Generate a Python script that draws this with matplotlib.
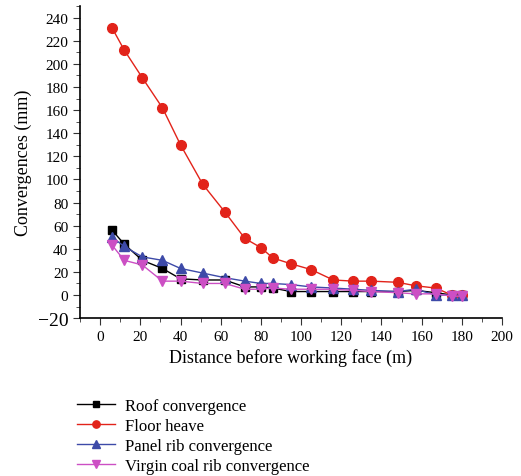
import matplotlib.pyplot as plt
from matplotlib.ticker import MultipleLocator

# distances (m) and convergences (mm)
distance = [6, 12, 21, 31, 40, 51, 62, 72, 80, 86, 95, 105, 116, 126, 135, 148, 157, 167, 175, 180]
roof = [56, 44, 30, 23, 14, 13, 13, 7, 7, 6, 3, 3, 3, 3, 3, 3, 4, 2, 0, 0]
floor = [231, 212, 188, 162, 130, 96, 72, 49, 41, 32, 27, 22, 13, 12, 12, 11, 8, 6, 0, 0]
panel_rib = [50, 42, 33, 30, 23, 19, 15, 12, 10, 10, 9, 7, 6, 5, 4, 3, 5, 0, 0, 0]
virgin_rib = [43, 30, 26, 12, 12, 10, 10, 5, 5, 6, 5, 5, 5, 4, 3, 2, 1, 1, -1, -1]

plt.rcParams['font.family'] = ['Liberation Serif', 'DejaVu Serif']

fig = plt.figure(figsize=(5.21, 4.77), dpi=100)
ax = fig.add_axes([0.1536, 0.331, 0.81, 0.654])

ax.plot(distance, roof, color="black", marker="s", ms=6, lw=1, label="Roof convergence")
ax.plot(distance, floor, color="#e2231a", marker="o", ms=7, lw=1, label="Floor heave")
ax.plot(distance, panel_rib, color="#3d4aa8", marker="^", ms=7, lw=1, label="Panel rib convergence")
ax.plot(distance, virgin_rib, color="#cc4fc4", marker="v", ms=7, lw=1, label="Virgin coal rib convergence")

ax.set_xlim(-10, 200)
ax.set_ylim(-20, 250)
ax.xaxis.set_major_locator(MultipleLocator(20))
ax.xaxis.set_minor_locator(MultipleLocator(10))
ax.yaxis.set_major_locator(MultipleLocator(20))
ax.yaxis.set_minor_locator(MultipleLocator(10))
ax.set_yticks(range(-20, 241, 20))
ax.set_yticklabels([("\u221220" if v == -20 else str(v)) for v in range(-20, 241, 20)])
ax.tick_params(which="both", direction="out", labelsize=11, color="#333333")
ax.tick_params(which="major", length=5)
ax.tick_params(which="minor", length=3)
ax.spines["top"].set_visible(False)
ax.spines["right"].set_visible(False)
ax.spines["left"].set_linewidth(1.2)
ax.spines["bottom"].set_linewidth(1.2)
for lbl in ax.get_yticklabels():
    if lbl.get_text() == "\u221220":
        lbl.set_fontsize(14)

ax.set_xlabel("Distance before working face (m)", fontsize=13)
ax.set_ylabel("Convergences (mm)", fontsize=13)

fig.legend(loc="upper left", bbox_to_anchor=(0.148, 0.164), frameon=False,
           fontsize=12, handlelength=2.3, handletextpad=0.6, markerscale=0.75,
           labelspacing=0.25, borderaxespad=0, borderpad=0)

fig.savefig("out.png", dpi=100)
